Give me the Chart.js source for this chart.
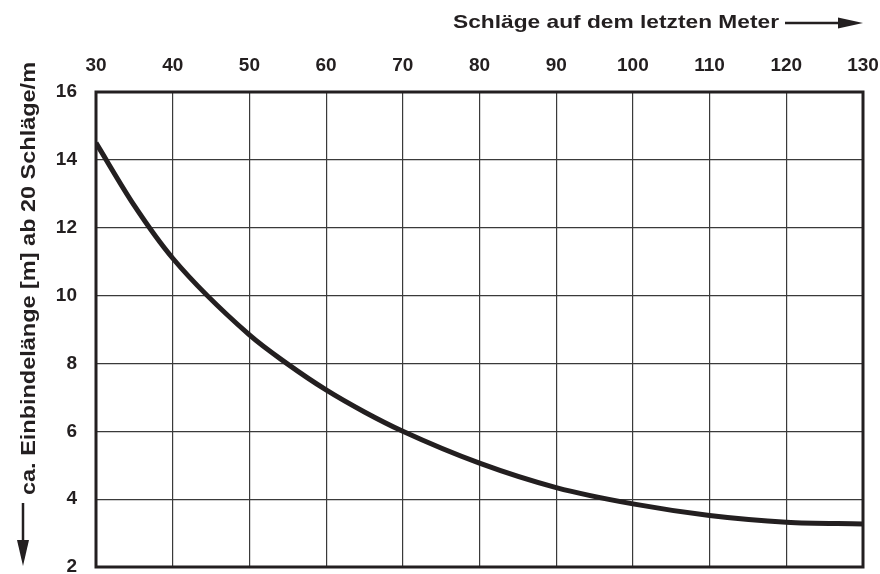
<!DOCTYPE html>
<html>
<head>
<meta charset="utf-8">
<script src="https://cdn.jsdelivr.net/npm/chart.js@4.4.1/dist/chart.umd.min.js"></script>
<style>
  html, body { margin: 0; padding: 0; background: #fff; }
  #wrap { width: 880px; height: 574px; }
</style>
</head>
<body>
<div id="wrap"><canvas id="chart" width="880" height="574"></canvas></div>
<script>
// Werte
const schlaege = [30, 35, 40, 50, 55, 60, 65, 70, 80, 90, 100, 110, 120, 130];
const einbindelaenge = [14.5, 12.65, 11.1, 8.84, 7.98, 7.22, 6.57, 6.0, 5.06, 4.34, 3.86, 3.52, 3.32, 3.27];
const xTitle = 'Schläge auf dem letzten Meter';
const yTitle = 'ca. Einbindelänge [m] ab 20 Schläge/m';

const ink = '#231f20';
const fontFamily = '"Liberation Sans", Arial, sans-serif';

const drawArrow = (ctx, x1, y1, x2, y2, headLen, headHalf) => {
    const ang = Math.atan2(y2 - y1, x2 - x1);
    const bx = x2 - headLen * Math.cos(ang);
    const by = y2 - headLen * Math.sin(ang);
    ctx.beginPath();
    ctx.moveTo(x1, y1);
    ctx.lineTo(bx, by);
    ctx.stroke();
    ctx.beginPath();
    ctx.moveTo(x2, y2);
    ctx.lineTo(bx + headHalf * Math.sin(ang), by - headHalf * Math.cos(ang));
    ctx.lineTo(bx - headHalf * Math.sin(ang), by + headHalf * Math.cos(ang));
    ctx.closePath();
    ctx.fill();
};

// Rahmen und gestreckte Achsentitel mit Pfeilen
const framePlugin = {
    id: 'frame',
    afterDraw(chart) {
        const { ctx, chartArea: a } = chart;
        ctx.save();
        ctx.strokeStyle = ink;
        ctx.fillStyle = ink;
        ctx.lineWidth = 3;
        ctx.strokeRect(a.left, a.top, a.right - a.left, a.bottom - a.top);

        ctx.font = 'bold 19px ' + fontFamily;
        ctx.textBaseline = 'alphabetic';
        ctx.textAlign = 'left';

        // x-Titel oben rechts
        let w = ctx.measureText(xTitle).width;
        ctx.save();
        ctx.translate(453, 28);
        ctx.scale(326 / w, 1);
        ctx.fillText(xTitle, 0, 0);
        ctx.restore();
        ctx.lineWidth = 2.5;
        drawArrow(ctx, 785, 23, 863, 23, 25, 5.5);

        // y-Titel gedreht
        ctx.font = 'bold 20px ' + fontFamily;
        w = ctx.measureText(yTitle).width;
        ctx.save();
        ctx.translate(35, 495);
        ctx.rotate(-Math.PI / 2);
        ctx.scale(433 / w, 1);
        ctx.fillText(yTitle, 0, 0);
        ctx.restore();
        drawArrow(ctx, 23, 503, 23, 566, 26, 6);
        ctx.restore();
    },
};

const tickFont = { family: fontFamily, size: 19, weight: 'bold' };

new Chart(document.getElementById('chart'), {
    type: 'line',
    data: {
        datasets: [{
            data: schlaege.map((x, i) => ({ x, y: einbindelaenge[i] })),
            borderColor: ink,
            borderWidth: 5,
            pointRadius: 0,
            cubicInterpolationMode: 'monotone',
            fill: false,
        }],
    },
    options: {
        responsive: false,
        animation: false,
        layout: { padding: { left: 0, right: 17, top: 0, bottom: 7 } },
        plugins: { legend: { display: false }, tooltip: { enabled: false } },
        scales: {
            x: {
                type: 'linear',
                position: 'top',
                min: 30,
                max: 130,
                ticks: { stepSize: 10, color: ink, font: tickFont, padding: 15, maxRotation: 0 },
                grid: { color: '#3a3a3a', lineWidth: 1.2, drawTicks: false },
                border: { display: false },
                afterFit(scale) {
                    scale.height = 92;
                    scale.paddingLeft = 0;
                    scale.paddingRight = 0;
                },
            },
            y: {
                min: 2,
                max: 16,
                ticks: { stepSize: 2, color: ink, font: tickFont, padding: 19 },
                grid: { color: '#3a3a3a', lineWidth: 1.2, drawTicks: false },
                border: { display: false },
                afterFit(scale) {
                    scale.width = 96;
                    scale.paddingTop = 0;
                    scale.paddingBottom = 0;
                },
            },
        },
    },
    plugins: [framePlugin],
});
</script>
</body>
</html>
